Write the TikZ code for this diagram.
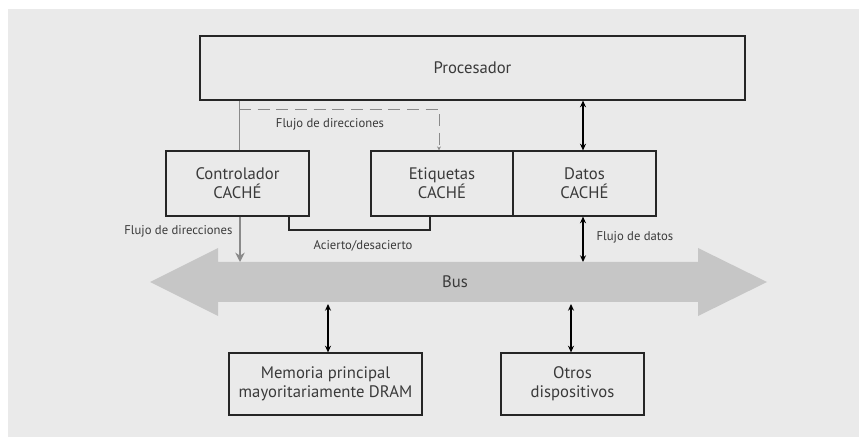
\documentclass[tikz,border=0pt]{standalone}
\usepackage{fontspec}
\setmainfont{PT Sans}
\usetikzlibrary{arrows.meta}
\definecolor{bg}{HTML}{EAEAEA}
\definecolor{busc}{HTML}{C6C6C6}
\definecolor{txt}{HTML}{3A3A3A}
\definecolor{lgray}{HTML}{8A8A8A}
\begin{document}
\begin{tikzpicture}[x=0.75pt,y=-0.75pt,
  box/.style={draw=black!85,line width=0.9pt,fill=bg,inner sep=0pt,text=txt,font=\fontsize{12.5}{14.5}\selectfont,align=center},
  lbl/.style={text=txt,font=\fontsize{9.5}{11}\selectfont,inner sep=1pt},
  dbl/.style={line width=0.9pt,{Stealth[length=5pt,width=4.5pt]}-{Stealth[length=5pt,width=4.5pt]}}]
\useasboundingbox (0,0) rectangle (859,441);
\fill[white] (0,0) rectangle (859,441);
\fill[bg] (8,9) rectangle (859,437);
% boxes
\node[box,minimum width=545*0.75pt,minimum height=64*0.75pt] (proc) at (472.5,68) {Procesador};
\node[box,minimum width=143*0.75pt,minimum height=65*0.75pt] (ctrl) at (237.5,183.5) {Controlador\\CACHÉ};
\node[box,minimum width=142*0.75pt,minimum height=65*0.75pt] (etiq) at (442,183.5) {Etiquetas\\CACHÉ};
\node[box,minimum width=143*0.75pt,minimum height=65*0.75pt] (datos) at (584.5,183.5) {Datos\\CACHÉ};
\node[box,minimum width=193*0.75pt,minimum height=62*0.75pt] (mem) at (325.5,384) {Memoria principal\\mayoritariamente DRAM};
\node[box,minimum width=143*0.75pt,minimum height=62*0.75pt] (otros) at (572.5,384) {Otros\\dispositivos};
% bus
\fill[busc] (150,282) -- (218,248) -- (218,262) -- (698,262) -- (698,248) -- (767,282) -- (698,316) -- (698,302) -- (218,302) -- (218,316) -- cycle;
\node[text=txt,font=\fontsize{12.5}{14.5}\selectfont] (bus) at (455,282) {Bus};
\coordinate (bustopL) at (240,262);
\coordinate (bustopR) at (583,262);
\coordinate (busbotM) at (328,304);
\coordinate (busbotO) at (571,304);
% connectors
\draw[lgray,line width=0.7pt] (ctrl.north -| 239,0) -- (proc.south -| 239,0);
\draw[lgray,line width=0.6pt,dash pattern=on 9pt off 5pt,-{Stealth[length=3pt,width=3pt]}] (239,109) -- (439,109) -- (etiq.north -| 439,0);
\node[lbl] (fd1) at (330,124) {Flujo de direcciones};
\draw[dbl] (proc.south -| datos) ++(-1.5,0) coordinate (pd) -- (pd |- datos.north);
\draw[black!85,line width=0.9pt] (ctrl.south -| 289,0) -- (289,230) -- (430,230) -- (etiq.south -| 430,0);
\node[lbl] (acd) at (363,246) {Acierto/desacierto};
\draw[lgray,line width=1.2pt,-{Stealth[length=7pt,width=7pt]}] (ctrl.south -| 240,0) -- (bustopL);
\node[lbl,anchor=east] (fd2) at (234,231) {Flujo de direcciones};
\draw[dbl] (datos.south -| bustopR) -- (bustopR);
\node[lbl,anchor=west] (fdat) at (595,237) {Flujo de datos};
\draw[dbl] (busbotM) -- (mem.north -| busbotM);
\draw[dbl] (busbotO) -- (otros.north -| busbotO);
\end{tikzpicture}
\end{document}
